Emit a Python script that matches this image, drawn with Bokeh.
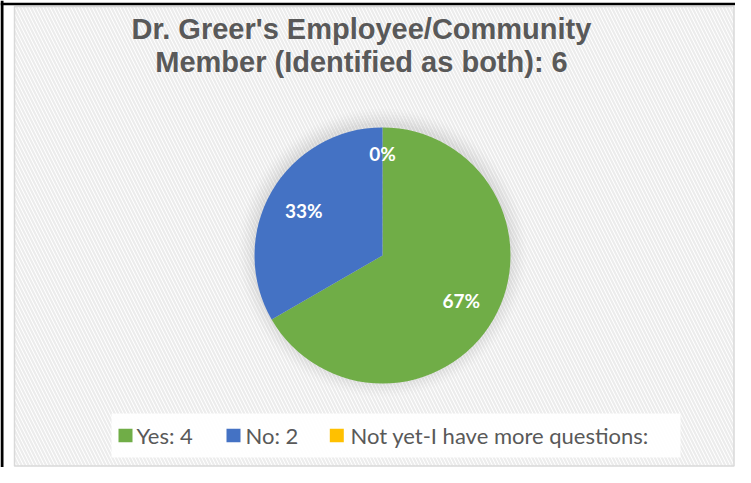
import math
from bokeh.plotting import figure
from bokeh.models import Range1d, ColumnDataSource
from bokeh.core.properties import value
from bokeh.embed import file_html
from bokeh.resources import INLINE

# ---- data ----
title_lines = ["Dr. Greer's Employee/Community", "Member (Identified as both): 6"]
categories = ["Yes", "No", "Not yet-I have more questions"]
counts = [4, 2, 0]
legend_labels = ["Yes: 4", "No: 2", "Not yet-I have more questions:"]
colors = ["#70AD47", "#4472C4", "#FFC000"]

W, H = 735, 467
p = figure(width=W, height=H, output_backend="svg", toolbar_location=None,
           x_range=Range1d(0, W), y_range=Range1d(H, 0),
           min_border=0, outline_line_color=None, background_fill_color="white",
           border_fill_color="white")
p.axis.visible = False
p.grid.visible = False

# chart area with hatched background
p.quad(left=[14], right=[733.5], top=[6], bottom=[465.5], fill_color="white",
       hatch_pattern="left_diagonal_line", hatch_color="#ececec", hatch_scale=7,
       hatch_weight=2.2, line_color="#d9d9d9", line_width=1.5)

# document frame lines
p.segment(x0=[0], y0=[3.5], x1=[W], y1=[3.5], line_color="black", line_width=2.5)
p.segment(x0=[1.5], y0=[0], x1=[1.5], y1=[H], line_color="black", line_width=3)

# title
p.text(x=[361, 361], y=[28, 61], text=title_lines, text_align="center",
       text_baseline="middle", text_font=value("Liberation Sans"),
       text_font_style="bold", text_font_size="29px", text_color="#595959")

# pie
cx, cy, r = 382, 255, 128
# soft shadow
for i, a in enumerate([0.02, 0.025, 0.03, 0.035, 0.04, 0.05]):
    p.circle(x=[cx], y=[cy - 3], radius=r + 16 - i * 2.8, fill_color="#808080",
             fill_alpha=a, line_color=None)

total = sum(counts)
starts, ends, mids, wcol = [], [], [], []
acc = 0.0
for c, col in zip(counts, colors):
    frac = c / total
    # clockwise from 12 o'clock in screen terms
    a0 = -math.pi / 2 + 2 * math.pi * acc
    a1 = -math.pi / 2 + 2 * math.pi * (acc + frac)
    mids.append((a0 + a1) / 2)
    if c > 0:
        # wedge angles are drawn counter-clockwise on screen: negate & swap
        starts.append(-a1)
        ends.append(-a0)
        wcol.append(col)
    acc += frac

src = ColumnDataSource(dict(start=starts, end=ends, color=wcol))
p.wedge(x=cx, y=cy, radius=r, start_angle="start", end_angle="end",
        direction="anticlock", fill_color="color", line_color=None, source=src)

pct = [f"{round(100 * c / total)}%" for c in counts]
lx = [cx + 0.71 * r * math.cos(m) for m in mids]
ly = [cy + 0.71 * r * math.sin(m) for m in mids]
lx[2] = cx
ly[2] = cy - 0.8 * r
p.text(x=lx, y=ly, text=pct, text_align="center", text_baseline="middle",
       text_font=value("Lato"), text_font_style="bold",
       text_font_size="19px", text_color="white")

# legend
p.quad(left=[111], right=[680], top=[413], bottom=[457], fill_color="white",
       fill_alpha=0.92, line_color=None)
sq_x = [125, 233, 336.3]
tx = [136, 245, 350]
p.rect(x=sq_x, y=[435] * 3, width=14, height=13.5, fill_color=colors,
       line_color=None)
p.text(x=tx, y=[435] * 3, text=legend_labels, text_align="left",
       text_baseline="middle", text_font=value("Lato"), text_font_size="22px",
       text_color="#595959")

open("out.html", "w").write(file_html(p, INLINE))
